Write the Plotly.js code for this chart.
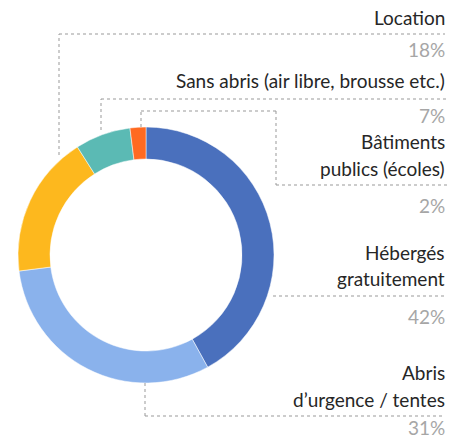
<!DOCTYPE html>
<html><head><meta charset="utf-8">
<script src="https://cdn.plot.ly/plotly-3.0.1.min.js"></script>
<style>body{margin:0;padding:0;background:#fff}#c{width:449px;height:441px}</style>
</head><body><div id="c"></div>
<script>
var categories = ["Hébergés gratuitement", "Abris d’urgence / tentes", "Location", "Sans abris (air libre, brousse etc.)", "Bâtiments publics (écoles)"];
var values = [42, 31, 18, 7, 2];
var labelLines = [["Hébergés", "gratuitement"], ["Abris", "d’urgence / tentes"], ["Location"], ["Sans abris (air libre, brousse etc.)"], ["Bâtiments", "publics (écoles)"]];
var colors = ["#4A70BD", "#8AB2EC", "#FDB81E", "#5BBAB4", "#FF6A21"];

var W = 449, H = 441;
function px(x){return x/W;}
function py(y){return 1 - y/H;}

// label layout (pixel positions of text rows and leader paths)
var labelY = [[252, 278], [372, 399], [17], [81], [141, 168]];
var pctY = [316, 427, 49, 115, 205];
var paths = [
  [[273,296],[445,296]],
  [[145,383],[145,416],[442,416]],
  [[59,155],[59,34],[445,34]],
  [[101,130],[101,99],[448,99]],
  [[141,127],[141,111],[276,111],[276,185],[447,185]]
];

var annotations = [], shapes = [];
var font = "Lato, 'Open Sans', sans-serif";
for (var i = 0; i < categories.length; i++) {
  for (var j = 0; j < labelLines[i].length; j++) {
    annotations.push({xref:'paper', yref:'paper', x:px(447), y:py(labelY[i][j]), xanchor:'right', yanchor:'middle',
      text: labelLines[i][j], showarrow:false, font:{family:font, size:19, color:'#262626'}});
  }
  annotations.push({xref:'paper', yref:'paper', x:px(447), y:py(pctY[i]), xanchor:'right', yanchor:'middle',
    text: values[i] + '%', showarrow:false, font:{family:font, size:19, color:'#A6A6A6'}});
  var p = paths[i];
  for (var k = 0; k < p.length - 1; k++) {
    shapes.push({type:'line', xref:'paper', yref:'paper', x0:px(p[k][0]), y0:py(p[k][1]), x1:px(p[k+1][0]), y1:py(p[k+1][1]),
      line:{color:'#999999', width:1, dash:'dot'}});
  }
}

var trace = {
  type:'pie', labels:categories, values:values, hole:0.75, sort:false, direction:'clockwise', rotation:0,
  marker:{colors:colors, line:{color:'#ffffff', width:0.5}},
  textinfo:'none', hoverinfo:'label+percent', showlegend:false,
  domain:{x:[px(17), px(275)], y:[py(383), py(127)]}
};

Plotly.newPlot('c', [trace], {
  width:W, height:H, margin:{l:0,r:0,t:0,b:0}, paper_bgcolor:'#fff', plot_bgcolor:'#fff',
  showlegend:false, annotations:annotations, shapes:shapes
}, {displayModeBar:false, staticPlot:true});
</script></body></html>
